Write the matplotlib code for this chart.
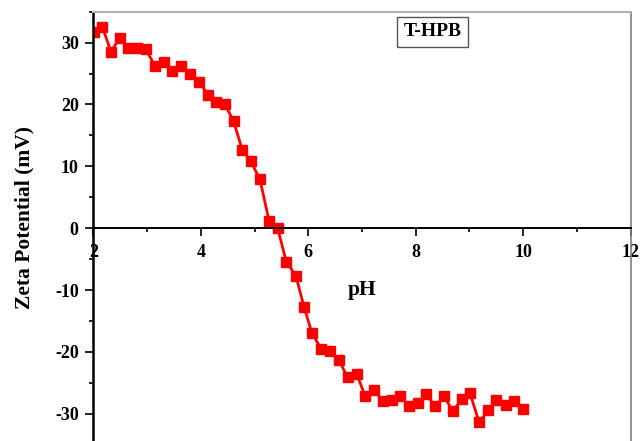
import numpy as np
import matplotlib
matplotlib.use("Agg")
import matplotlib.pyplot as plt
from matplotlib.ticker import MultipleLocator

# data
ph = [2.02, 2.17, 2.33, 2.49, 2.65, 2.82, 2.98, 3.14, 3.31, 3.47,
      3.63, 3.80, 3.97, 4.13, 4.29, 4.45, 4.61, 4.77, 4.93, 5.10,
      5.27, 5.43, 5.59, 5.77, 5.92, 6.07, 6.24, 6.40, 6.57, 6.73,
      6.90, 7.06, 7.22, 7.39, 7.55, 7.71, 7.87, 8.04, 8.19, 8.36,
      8.53, 8.69, 8.86, 9.01, 9.18, 9.35, 9.50, 9.67, 9.83, 10.0]
zeta = [31.7, 32.5, 28.5, 30.8, 29.2, 29.2, 28.9, 26.3, 26.9, 25.4,
        26.2, 24.9, 23.7, 21.6, 20.4, 20.0, 17.3, 12.7, 10.8, 7.9,
        1.2, 0.0, -5.4, -7.7, -12.7, -17.0, -19.5, -19.8, -21.3, -24.1,
        -23.5, -27.2, -26.1, -28.0, -27.7, -27.2, -28.7, -28.3, -26.8, -28.8,
        -27.2, -29.6, -27.6, -26.7, -31.4, -29.4, -27.7, -28.6, -27.9, -29.2]
sample = "T-HPB"

plt.rcParams['font.family'] = ['Liberation Serif', 'DejaVu Serif']
plt.rcParams['font.weight'] = 'bold'
plt.rcParams['axes.unicode_minus'] = False

fig = plt.figure(figsize=(6.4, 4.41), dpi=100)
ax = fig.add_axes([0.1458, 0.0, 0.8397, 0.9735])

ax.plot(ph, zeta, 's-', color='red', lw=2, markersize=7)

ax.set_xlim(2, 12)
ax.set_ylim(-34.4, 35)
ax.xaxis.set_major_locator(MultipleLocator(2))
ax.xaxis.set_minor_locator(MultipleLocator(1))
ax.yaxis.set_major_locator(MultipleLocator(10))
ax.yaxis.set_minor_locator(MultipleLocator(5))

ax.spines['bottom'].set_position(('data', 0))
ax.spines['bottom'].set_linewidth(1.4)
ax.spines['left'].set_linewidth(1.8)
ax.spines['top'].set_color('#b0b0b0')
ax.spines['top'].set_linewidth(1.5)
ax.spines['right'].set_color('#808080')
ax.spines['right'].set_linewidth(1.2)

ax.tick_params(which='major', direction='out', length=5.5, width=1.2,
               labelsize=13, top=False, right=False)
ax.tick_params(which='minor', direction='out', length=3, width=1.2,
               top=False, right=False)
ax.tick_params(axis='x', pad=6)
ax.tick_params(axis='y', pad=5)
for lab in ax.get_xticklabels() + ax.get_yticklabels():
    lab.set_fontweight('bold')

ax.set_xlabel("pH", fontsize=15.5, fontweight='bold')
ax.xaxis.set_label_coords(0.5, 0.375)
ax.set_ylabel("Zeta Potential (mV)", fontsize=15.5, fontweight='bold')
ax.yaxis.set_label_coords(-0.11, 0.52)

ax.text(0.631, 0.953, sample, transform=ax.transAxes, ha='center', va='center',
        fontsize=14, fontweight='bold',
        bbox=dict(boxstyle='square,pad=0.35', fc='white', ec='#555555', lw=1))

fig.savefig("out.png", dpi=100)
